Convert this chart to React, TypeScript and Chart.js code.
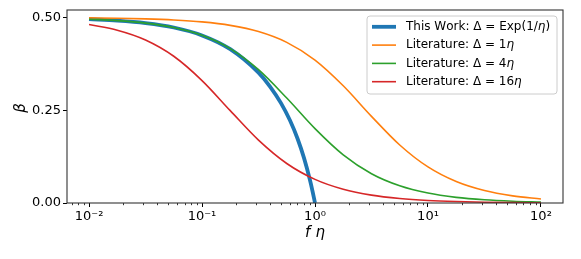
import { useEffect, useRef } from "react";
import { Chart, registerables } from "chart.js";

Chart.register(...registerables);

// ---- data ----
const fEta = [0.01, 0.01778, 0.03162, 0.05623, 0.1, 0.1778, 0.3162, 0.5623, 1, 1.778, 3.162, 5.623, 10, 17.78, 31.62, 56.23, 100];
const lit1 = [0.4988, 0.4979, 0.4962, 0.4932, 0.4879, 0.4785, 0.4618, 0.4327, 0.385, 0.3158, 0.2335, 0.1563, 0.0972, 0.0578, 0.0335, 0.0192, 0.0109];
const lit4 = [0.4952, 0.4914, 0.4847, 0.4728, 0.4517, 0.4158, 0.3592, 0.2828, 0.2004, 0.1297, 0.0789, 0.0464, 0.0267, 0.0152, 0.0086, 0.0049, 0.0027];
const lit16 = [0.4807, 0.4656, 0.4392, 0.3954, 0.3299, 0.2488, 0.1694, 0.1065, 0.0637, 0.0371, 0.0212, 0.0121, 0.0068, 0.0039, 0.0022, 0.0012, 0.0007];
const thisWorkF = [0.01, 0.01778, 0.03162, 0.05623, 0.1, 0.1778, 0.3162, 0.4, 0.5, 0.6, 0.7, 0.8, 0.9, 0.95, 1];
const thisWork = [0.4952, 0.4914, 0.4847, 0.4728, 0.4515, 0.4144, 0.3512, 0.3138, 0.2691, 0.2228, 0.1737, 0.1208, 0.0632, 0.0323, 0];

const seriesLabels = ["This Work: Δ = Exp(1/η)", "Literature: Δ = 1η", "Literature: Δ = 4η", "Literature: Δ = 16η"];
const seriesColors = ["#1f77b4", "#ff7f0e", "#2ca02c", "#d62728"];
const seriesWidths = [3.8, 1.6, 1.6, 1.6];

const xTickValues = [0.01, 0.1, 1, 10, 100];
const xTickLabels = ["10⁻²", "10⁻¹", "10⁰", "10¹", "10²"];
const yTickValues = [0, 0.25, 0.5];
const yTickLabels = ["0.00", "0.25", "0.50"];
const xTitleParts = ["f", "η"];
const yTitle = "β";

const FONT = "'DejaVu Sans', 'Noto Sans', sans-serif";

const pts = (xs: number[], ys: number[]) => xs.map((x, i) => ({ x, y: ys[i] }));

const decorPlugin = {
  id: "decor",
  afterDatasetsDraw(chart: any) {
    const { ctx, chartArea } = chart;
    const { left, right, top, bottom } = chartArea;
    const xs = chart.scales.x;
    ctx.save();
    // minor ticks on log x axis
    ctx.strokeStyle = "#000";
    ctx.lineWidth = 0.8;
    for (let e = -3; e <= 2; e++) {
      for (let m = 2; m <= 9; m++) {
        const v = m * Math.pow(10, e);
        if (v < xs.min || v > xs.max) continue;
        const px = Math.round(xs.getPixelForValue(v)) + 0.5;
        ctx.beginPath();
        ctx.moveTo(px, bottom);
        ctx.lineTo(px, bottom + 2.2);
        ctx.stroke();
      }
    }
    // spines
    ctx.lineWidth = 1.1;
    ctx.strokeStyle = "#333";
    ctx.strokeRect(left, top, right - left, bottom - top);
    ctx.restore();
  },
  afterDraw(chart: any) {
    const { ctx } = chart;
    ctx.save();
    // legend
    const bx = 367, by = 16, bw = 190, bh = 78, r = 3;
    ctx.beginPath();
    ctx.moveTo(bx + r, by);
    ctx.lineTo(bx + bw - r, by);
    ctx.arcTo(bx + bw, by, bx + bw, by + r, r);
    ctx.lineTo(bx + bw, by + bh - r);
    ctx.arcTo(bx + bw, by + bh, bx + bw - r, by + bh, r);
    ctx.lineTo(bx + r, by + bh);
    ctx.arcTo(bx, by + bh, bx, by + bh - r, r);
    ctx.lineTo(bx, by + r);
    ctx.arcTo(bx, by, bx + r, by, r);
    ctx.closePath();
    ctx.fillStyle = "rgba(255,255,255,0.8)";
    ctx.fill();
    ctx.strokeStyle = "#cccccc";
    ctx.lineWidth = 1;
    ctx.stroke();
    chart.data.datasets.forEach((ds: any, i: number) => {
      const y = 26.8 + i * 18.3;
      ctx.beginPath();
      ctx.strokeStyle = ds.borderColor;
      ctx.lineWidth = ds.borderWidth;
      ctx.moveTo(372, y);
      ctx.lineTo(396, y);
      ctx.stroke();
      let x = 406;
      ctx.fillStyle = "#000";
      ctx.textBaseline = "middle";
      ctx.textAlign = "left";
      for (const ch of ds.label as string) {
        ctx.font = (ch === "η" ? "italic " : "") + "12px " + FONT;
        ctx.fillText(ch, x, y);
        x += ctx.measureText(ch).width;
      }
    });
    // axis titles
    ctx.fillStyle = "#000";
    ctx.font = "italic 15px " + FONT;
    ctx.textBaseline = "middle";
    const gap = 5;
    const w0 = ctx.measureText(xTitleParts[0]).width;
    const w1 = ctx.measureText(xTitleParts[1]).width;
    const tx = 315 - (w0 + gap + w1) / 2;
    ctx.textAlign = "left";
    ctx.fillText(xTitleParts[0], tx, 233);
    ctx.fillText(xTitleParts[1], tx + w0 + gap, 233);
    ctx.translate(21, 108);
    ctx.rotate(-Math.PI / 2);
    ctx.textAlign = "center";
    ctx.fillText(yTitle, 0, 0);
    ctx.restore();
  },
};

export default function App() {
  const ref = useRef<HTMLCanvasElement | null>(null);
  useEffect(() => {
    if (!ref.current) return;
    const data = [pts(thisWorkF, thisWork), pts(fEta, lit1), pts(fEta, lit4), pts(fEta, lit16)];
    const chart = new Chart(ref.current, {
      type: "line",
      data: {
        datasets: data.map((d, i) => ({
          label: seriesLabels[i],
          data: d,
          borderColor: seriesColors[i],
          backgroundColor: seriesColors[i],
          borderWidth: seriesWidths[i],
          pointRadius: 0,
          fill: false,
          cubicInterpolationMode: "monotone" as const,
          order: 4 - i,
        })),
      },
      options: {
        responsive: false,
        animation: false,
        devicePixelRatio: 1,
        layout: { padding: { top: 10, right: 18, left: 0, bottom: 0 } },
        plugins: { legend: { display: false }, tooltip: { enabled: false } },
        events: [],
        scales: {
          x: {
            type: "logarithmic",
            min: Math.pow(10, -2.195),
            max: Math.pow(10, 2.195),
            afterBuildTicks: (s: any) => {
              s.ticks = xTickValues.map((v) => ({ value: v, major: true }));
            },
            afterFit: (s: any) => {
              s.height = 56;
            },
            ticks: {
              autoSkip: false,
              maxRotation: 0,
              padding: 2,
              color: "#000",
              font: { family: FONT, size: 13 },
              callback: (_v: any, i: number) => xTickLabels[i],
            },
            grid: { display: true, drawOnChartArea: false, drawTicks: true, tickLength: 4, tickColor: "#000", tickWidth: 1 },
            border: { display: false },
          },
          y: {
            type: "linear",
            min: 0,
            max: 0.52,
            afterBuildTicks: (s: any) => {
              s.ticks = yTickValues.map((v) => ({ value: v }));
            },
            afterFit: (s: any) => {
              s.width = 67;
            },
            ticks: {
              padding: 2,
              color: "#000",
              font: { family: FONT, size: 13 },
              callback: (_v: any, i: number) => yTickLabels[i],
            },
            grid: { display: true, drawOnChartArea: false, drawTicks: true, tickLength: 4, tickColor: "#000", tickWidth: 1 },
            border: { display: false },
          },
        },
      },
      plugins: [decorPlugin],
    });
    return () => chart.destroy();
  }, []);
  return (
    <div style={{ position: "fixed", left: 0, top: 0, width: 581, height: 259, background: "#fff" }}>
      <canvas ref={ref} width={581} height={259} />
    </div>
  );
}
